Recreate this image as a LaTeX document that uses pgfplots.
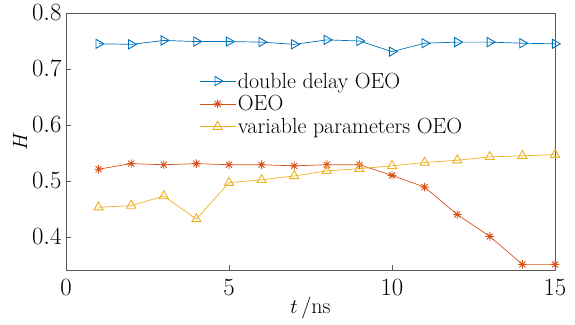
\documentclass[border=0pt]{standalone}
\usepackage{pgfplots}
\pgfplotsset{compat=1.18}
\definecolor{mblue}{rgb}{0,0.447,0.741}
\definecolor{morange}{rgb}{0.85,0.325,0.098}
\definecolor{myellow}{rgb}{0.929,0.694,0.125}
\pgfdeclareplotmark{mstar}{%
\pgfpathmoveto{\pgfqpoint{-\pgfplotmarksize}{0pt}}\pgfpathlineto{\pgfqpoint{\pgfplotmarksize}{0pt}}%
\pgfpathmoveto{\pgfqpoint{0pt}{-\pgfplotmarksize}}\pgfpathlineto{\pgfqpoint{0pt}{\pgfplotmarksize}}%
\pgfpathmoveto{\pgfqpoint{-.707\pgfplotmarksize}{-.707\pgfplotmarksize}}\pgfpathlineto{\pgfqpoint{.707\pgfplotmarksize}{.707\pgfplotmarksize}}%
\pgfpathmoveto{\pgfqpoint{-.707\pgfplotmarksize}{.707\pgfplotmarksize}}\pgfpathlineto{\pgfqpoint{.707\pgfplotmarksize}{-.707\pgfplotmarksize}}%
\pgfusepathqstroke}
\begin{document}
\begin{tikzpicture}
\begin{axis}[
  scale only axis,
  width=489bp, height=257bp,
  xmin=0, xmax=15, ymin=0.341, ymax=0.8,
  xtick={0,5,10,15}, ytick={0.4,0.5,0.6,0.7,0.8},
  tick align=inside, tick pos=left,
  major tick length=5bp,
  axis line style={black!65, line width=0.8pt},
  every tick/.style={black!65, line width=0.6pt},
  tick label style={font=\fontsize{23}{25}\selectfont},
  label style={font=\fontsize{22}{24}\selectfont},
  xticklabel style={yshift=-6bp},
  yticklabel style={xshift=-1bp, /pgf/number format/.cd,fixed,precision=1,fixed zerofill},
  xlabel={$t$\,/ns}, ylabel={$H$},
  xlabel style={yshift=5bp},
  ylabel style={yshift=-2bp},
  legend style={draw=none, fill=none, at={(0.266,0.784)}, anchor=north west,
    font=\fontsize{22}{23}\selectfont, row sep=2bp,
    /tikz/every even column/.append style={column sep=2bp}},
  legend cell align=left,
  legend image code/.code={\draw[mark repeat=2,mark phase=2] plot coordinates {(0bp,0bp)(18bp,0bp)(36bp,0bp)};},
]
\addplot[mblue, line width=0.7pt, mark=triangle, mark size=5.3bp, mark options={rotate=-90, line width=0.9pt}] coordinates {
(1,0.745)(2,0.744)(3,0.751)(4,0.749)(5,0.749)(6,0.748)(7,0.744)(8,0.752)(9,0.750)(10,0.731)(11,0.746)(12,0.748)(13,0.748)(14,0.746)(15,0.745)};
\addlegendentry{double delay OEO}
\addplot[morange, line width=0.7pt, mark=mstar, mark size=4.3bp, mark options={line width=0.9pt}] coordinates {
(1,0.521)(2,0.531)(3,0.529)(4,0.531)(5,0.529)(6,0.529)(7,0.527)(8,0.529)(9,0.529)(10,0.510)(11,0.489)(12,0.440)(13,0.401)(14,0.351)(15,0.351)};
\addlegendentry{OEO}
\addplot[myellow, line width=0.7pt, mark=triangle, mark size=5.3bp, mark options={line width=0.9pt}] coordinates {
(1,0.453)(2,0.456)(3,0.473)(4,0.432)(5,0.497)(6,0.502)(7,0.509)(8,0.518)(9,0.522)(10,0.527)(11,0.533)(12,0.537)(13,0.543)(14,0.545)(15,0.547)};
\addlegendentry{variable parameters OEO}
\end{axis}
\path ([xshift=-66bp,yshift=-55bp]current axis.south west) rectangle ([xshift=20bp,yshift=13bp]current axis.north east);
\end{tikzpicture}
\end{document}
